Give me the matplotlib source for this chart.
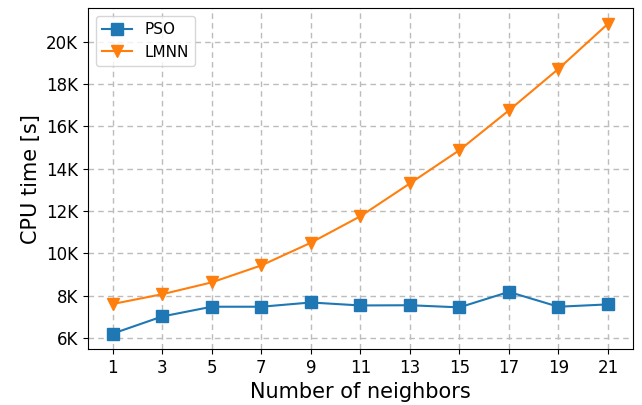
import numpy as np
import matplotlib
matplotlib.use("Agg")
import matplotlib.pyplot as plt
from matplotlib.ticker import FuncFormatter

neighbors = [1, 3, 5, 7, 9, 11, 13, 15, 17, 19, 21]
pso_time = [6210, 7020, 7480, 7480, 7680, 7540, 7550, 7450, 8180, 7480, 7590]
lmnn_time = [7610, 8070, 8630, 9430, 10500, 11750, 13300, 14870, 16750, 18710, 20840]

fig = plt.figure(figsize=(6.42, 4.05), dpi=100)
ax = fig.add_axes([0.137, 0.138, 0.8485, 0.8415])

ax.plot(neighbors, pso_time, marker="s", markersize=8, linewidth=1.5,
        color="#1f77b4", label="PSO")
ax.plot(neighbors, lmnn_time, marker="v", markersize=8, linewidth=1.5,
        color="#ff7f0e", label="LMNN")

ax.set_xticks(neighbors)
ax.yaxis.set_major_formatter(FuncFormatter(lambda v, p: "%dK" % (v / 1000)))
ax.tick_params(labelsize=12)
ax.set_xlabel("Number of neighbors", fontsize=15)
ax.set_ylabel("CPU time [s]", fontsize=15)
ax.grid(True, linestyle="--", color="#bcbcbc", linewidth=1, dashes=(4, 3))
ax.legend(loc="upper left", fontsize=11)

fig.savefig("out.png", dpi=100)
